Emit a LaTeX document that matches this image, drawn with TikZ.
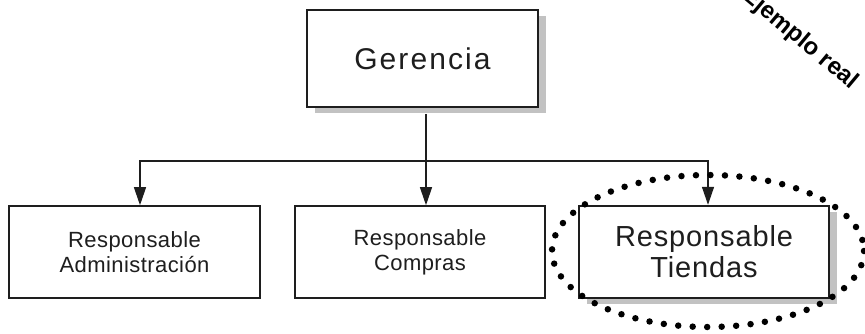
\documentclass[tikz,border=0pt]{standalone}
\usepackage{fontspec}
\setmainfont{Liberation Sans}
\newfontfamily\headfont[LetterSpace=7]{Liberation Sans}
\newfontfamily\bigfont[LetterSpace=3]{Liberation Sans}
\newfontfamily\smallfont[LetterSpace=2]{Liberation Sans}
\usetikzlibrary{arrows.meta,shadows}
\definecolor{ink}{HTML}{1E1E1E}
\definecolor{shade}{HTML}{C2C2C2}
\tikzset{
  box/.style={draw=ink, fill=white, line width=1.6pt, inner sep=0pt,
    text=ink, align=center},
  shaded/.style={drop shadow={shadow xshift=8pt, shadow yshift=-6pt,
    fill=shade, opacity=1}},
  conn/.style={draw=ink, line width=1.3pt},
  arrow/.style={conn, -{Triangle[length=18pt, width=12pt]}},
  dots/.style={draw=black, line width=6.5pt, line cap=round,
    dash pattern=on 0pt off 14.5pt},
}
\begin{document}
\begin{tikzpicture}[x=1pt, y=-1pt]
  \useasboundingbox (0,0) rectangle (865,333);
  \clip (0,0) rectangle (865,333);

  % top of the chart
  \node[box, shaded, minimum width=231pt, minimum height=97pt,
        font=\headfont\fontsize{30}{34}\selectfont]
    (g) at (422.5,58.5) {Gerencia};

  % the three departments
  \node[box, minimum width=251pt, minimum height=92pt,
        font=\smallfont\fontsize{22}{25}\selectfont]
    (a) at (134.5,252) {Responsable\\Administración};
  \node[box, minimum width=250pt, minimum height=92pt,
        font=\smallfont\fontsize{22}{25}\selectfont]
    (c) at (420,252) {Responsable\\Compras};
  \node[box, shaded, line width=2.4pt, minimum width=250pt, minimum height=92pt,
        font=\bigfont\fontsize{29}{31}\selectfont]
    (t) at (704,252) {Responsable\\Tiendas};

  % connectors
  \coordinate (bus) at (426,161);
  \draw[conn] ([xshift=3.5pt,yshift=-6pt]g.south) -- (bus);
  \draw[arrow] (bus) -| ([xshift=5.5pt]a.north);
  \draw[arrow] (bus) -- ([xshift=6pt]c.north);
  \draw[arrow] (bus) -| ([xshift=4pt]t.north);

  % highlight around the store manager
  \draw[dots] (708,251) ellipse [x radius=156, y radius=76];

  % corner label
  \node[rotate=-40, text=black, font=\bfseries\fontsize{24}{24}\selectfont]
    (tag) at (800,39) {Ejemplo real};
\end{tikzpicture}
\end{document}
